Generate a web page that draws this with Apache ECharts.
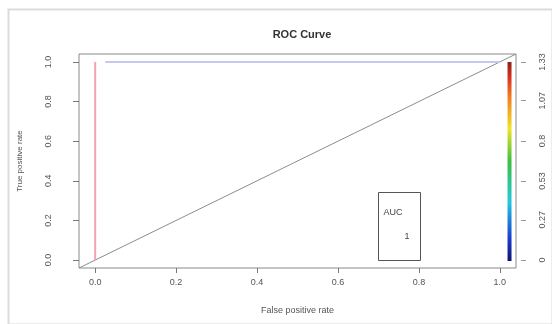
<!DOCTYPE html>
<html>
<head>
<meta charset="utf-8">
<script src="https://cdn.jsdelivr.net/npm/echarts@6/dist/echarts.min.js"></script>
<style>
  html, body { margin: 0; padding: 0; background: #fff; }
  #chart { width: 552px; height: 324px; }
</style>
</head>
<body>
<div id="chart"></div>
<script>
// ROC points (false positive rate, true positive rate)
const rocVertFpr = [0, 0]
const rocVertTpr = [0, 1]
const rocHorzFpr = [0.025, 1]
const rocHorzTpr = [1, 1]
const diagX = [-0.04, 1.04]
const diagY = [-0.04, 1.04]
// tick labels
const xTicks = [0, 0.2, 0.4, 0.6, 0.8, 1.0]
const yTicks = [0, 0.2, 0.4, 0.6, 0.8, 1.0]
const cutoffTicks = [0, 0.27, 0.53, 0.8, 1.07, 1.33]
const cutoffMax = 1.33
// colour bar runs along the cutoff scale
const barX = [1.024, 1.024]
const barY = [-0.005, 1.0]
const aucLabel = 'AUC'
const aucValue = '1'

const font = 'Liberation Sans'
const tickColor = '#555'

let myChart = echarts.init(document.getElementById('chart'))

const pairs = (xs, ys) => xs.map((x, i) => [x, ys[i]])

const options = {
  backgroundColor: '#fff',
  animation: false,
  title: {
    text: 'ROC Curve',
    left: 297,
    top: 24,
    textAlign: 'center',
    textStyle: { fontFamily: font, fontSize: 11, fontWeight: 'bold', color: '#333' }
  },
  grid: {
    left: 79, right: 36, top: 54, bottom: 56,
    show: true, borderColor: '#8a8a8a', borderWidth: 1
  },
  xAxis: {
    type: 'value', min: -0.04, max: 1.04,
    name: 'False positive rate', nameLocation: 'middle', nameGap: 38,
    nameTextStyle: { fontFamily: font, fontSize: 9, color: '#555' },
    axisLine: { show: false, onZero: false },
    splitLine: { show: false },
    axisTick: { show: true, length: 5, customValues: xTicks, lineStyle: { color: '#777' } },
    axisLabel: {
      customValues: xTicks, margin: 10, fontFamily: font, fontSize: 9, color: tickColor,
      formatter: v => v.toFixed(1)
    }
  },
  yAxis: [
    {
      type: 'value', min: -0.04, max: 1.04,
      name: 'True positive rate', nameLocation: 'middle', nameGap: 55, nameRotate: 90,
      nameTextStyle: { fontFamily: font, fontSize: 8, color: '#555' },
      axisLine: { show: false, onZero: false },
      splitLine: { show: false },
      axisTick: { show: true, length: 6, customValues: yTicks, lineStyle: { color: '#777' } },
      axisLabel: {
        customValues: yTicks, rotate: 90, margin: 26, fontFamily: font, fontSize: 9, color: tickColor,
        formatter: v => v.toFixed(1)
      }
    },
    {
      type: 'value', position: 'right', offset: 5,
      min: -0.04 * cutoffMax, max: 1.04 * cutoffMax,
      axisLine: { show: false, onZero: false },
      splitLine: { show: false },
      axisTick: { show: true, length: 5, customValues: cutoffTicks, lineStyle: { color: '#999' } },
      axisLabel: {
        customValues: cutoffTicks, rotate: 90, margin: 17, fontFamily: font, fontSize: 9, color: tickColor,
        formatter: v => String(v)
      }
    }
  ],
  series: [
    {
      type: 'line', symbol: 'none', silent: true,
      data: pairs(diagX, diagY),
      lineStyle: { color: '#8c8c8c', width: 1 }
    },
    {
      type: 'line', symbol: 'none', silent: true,
      data: pairs(rocHorzFpr, rocHorzTpr),
      lineStyle: { color: '#c6c8ee', width: 2 }
    },
    {
      type: 'line', symbol: 'none', silent: true,
      data: pairs(rocVertFpr, rocVertTpr),
      lineStyle: { color: '#f4a2ac', width: 2 }
    },
    {
      type: 'line', symbol: 'none', silent: true,
      data: pairs(barX, barY),
      lineStyle: {
        width: 4,
        color: new echarts.graphic.LinearGradient(0, 1, 0, 0, [
          { offset: 0, color: '#10106a' },
          { offset: 0.12, color: '#1a3ad0' },
          { offset: 0.3, color: '#22c8e0' },
          { offset: 0.5, color: '#3cc040' },
          { offset: 0.66, color: '#f0e428' },
          { offset: 0.82, color: '#f07a22' },
          { offset: 0.92, color: '#d62a20' },
          { offset: 1, color: '#7a2412' }
        ])
      }
    }
  ],
  graphic: [
    {
      type: 'rect', left: 6, top: 7, silent: true,
      shape: { width: 544, height: 315 },
      style: { fill: 'none', stroke: '#dcdcdc', lineWidth: 2 }
    },
    {
      type: 'group', left: 378, top: 192,
      children: [
        { type: 'rect', shape: { x: 0, y: 0, width: 42, height: 68 }, style: { fill: '#fff', stroke: '#555', lineWidth: 1 } },
        { type: 'text', x: 5, y: 16, style: { text: aucLabel, fontFamily: font, fontSize: 9, fill: '#444' } },
        { type: 'text', x: 26, y: 40, style: { text: aucValue, fontFamily: font, fontSize: 9, fill: '#444' } }
      ]
    }
  ]
}

myChart.setOption(options)
</script>
</body>
</html>
